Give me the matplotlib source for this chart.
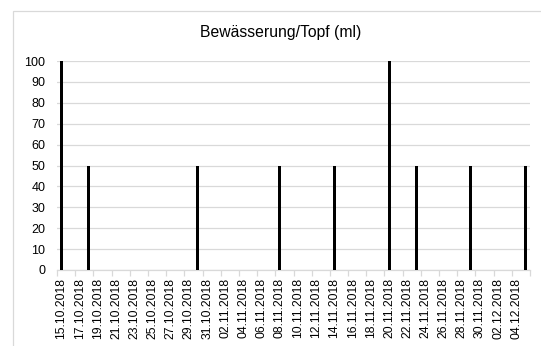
import matplotlib
matplotlib.use("Agg")
import matplotlib.pyplot as plt
import matplotlib.dates as mdates
from matplotlib.patches import Rectangle
from datetime import datetime, timedelta

# watering events (date, ml per pot)
dates = ["15.10.2018", "18.10.2018", "30.10.2018", "08.11.2018", "14.11.2018",
         "20.11.2018", "23.11.2018", "29.11.2018", "05.12.2018"]
ml = [100, 50, 50, 50, 50, 100, 50, 50, 50]

start = datetime(2018, 10, 15)
end = datetime(2018, 12, 6)
yticks = list(range(0, 101, 10))

plt.rcParams['font.family'] = ['Liberation Sans', 'DejaVu Sans']

fig = plt.figure(figsize=(5.41, 3.46), dpi=100)
W, H = 541, 346

# light chart frame (cut off at right/bottom like the original)
fig.patches.append(Rectangle((13 / W, -0.1), 1.2, 1 - 11 / H + 0.1, transform=fig.transFigure,
                             fill=False, edgecolor="#d9d9d9", linewidth=0.9))

ax = fig.add_axes([57 / W, 1 - 270 / H, (530 - 57) / W, (270 - 61) / H])

x = [mdates.date2num(datetime.strptime(d, "%d.%m.%Y")) + 0.5 for d in dates]
ax.bar(x, ml, width=0.33, color="black", zorder=3)

ax.set_xlim(mdates.date2num(start), mdates.date2num(end))
ax.set_ylim(0, 100)
ax.set_yticks(yticks)
ax.yaxis.grid(True, color="#d9d9d9", linewidth=0.9)
ax.tick_params(axis="y", length=0, pad=8.5, labelsize=9)

# tick marks at day boundaries every 2 days, labels centred on the day slot
n_days = (end - start).days
major = [mdates.date2num(start + timedelta(days=i)) for i in range(0, n_days + 1, 2)]
minor = [mdates.date2num(start + timedelta(days=i)) + 0.5 for i in range(0, n_days - 1, 2)]
ax.set_xticks(major)
ax.set_xticklabels([])
ax.set_xticks(minor, minor=True)
ax.set_xticklabels([(start + timedelta(days=i)).strftime("%d.%m.%Y") for i in range(0, n_days - 1, 2)],
                   minor=True, rotation=90)
ax.tick_params(axis="x", which="major", length=4, color="#d9d9d9", width=0.9, direction="out")
ax.tick_params(axis="x", which="minor", length=0, pad=6, labelsize=8.7)

for s in ["top", "right", "left"]:
    ax.spines[s].set_visible(False)
ax.spines["bottom"].set_color("#d9d9d9")
ax.spines["bottom"].set_linewidth(0.9)

fig.text(281 / W, 1 - 33 / H, "Bewässerung/Topf (ml)", ha="center", va="center", fontsize=11.3)

fig.savefig("out.png", dpi=100)
